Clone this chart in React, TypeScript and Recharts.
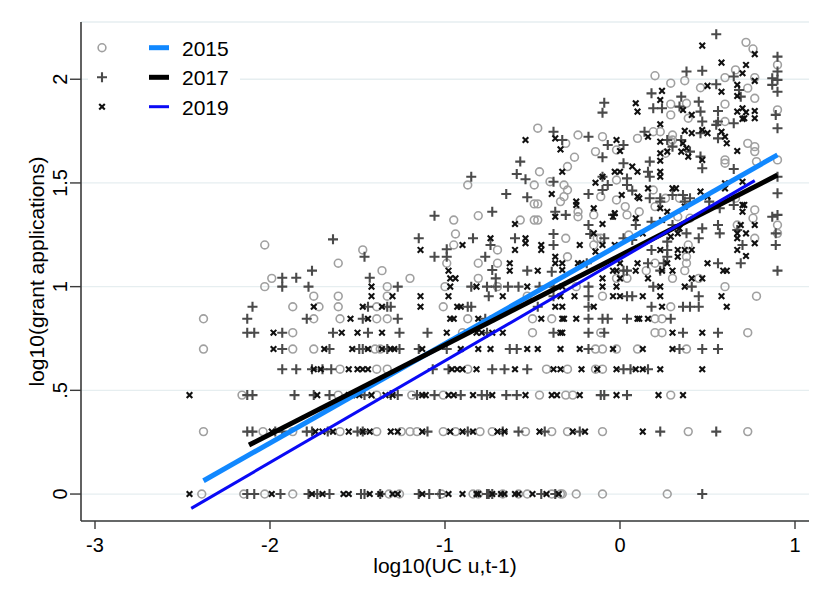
import { ScatterChart, Scatter, XAxis, YAxis, CartesianGrid } from "recharts";

// log10 of 1..10 applications: the rows the low counts sit on
const levels = [0, 0.301, 0.477, 0.602, 0.699, 0.778, 0.845, 0.903, 0.954, 1];

// x values of the points on each row (index = level)
const rows2015: number[][] = [
  [-2.39, -2.15, -2.03, -1.87, -1.32, -1.26, -1.02, -0.84, -0.81, -0.67, -0.58, -0.53, -0.39, -0.34, -0.33, -0.25, -0.1, 0.27],
  [-2.38, -2.04, -1.87, -1.6, -1.39, -1.25, -1.2, -1.16, -1.01, -0.94, -0.8, -0.73, -0.54, -0.39, -0.3, -0.1, 0.39, 0.73],
  [-2.16, -1.61, -1.39, -1.19, -1.01, -0.46, -0.31, -0.27, 0.29],
  [-1.6, -1.39, -1.33, -0.87, -0.42, -0.3, -0.14, -0.1],
  [-2.38, -1.87, -1.75, -1.4, -1.37, -0.14, -0.1, -0.02, 0.1, 0.38],
  [-1.87, -0.9, -0.5, -0.11, 0.2, 0.24, 0.73],
  [-2.38, -1.75, -1.6, -1.39, -1.33, -0.87, -0.5, -0.39, 0.2, 0.24],
  [-1.87, -1.72, -1.61, -1.39, -1.01, 0.29],
  [-1.75, -1.61, -1.33, -0.53, -0.1, 0.78],
  [-2.03, -1.33, -1, -0.7, -0.25, 0.6],
];
const rows2017: number[][] = [
  [-2.13, -2.09, -1.94, -1.78, -1.73, -1.66, -1.48, -1.46, -1.37, -1.15, -1.09, -1.03, -0.76, -0.75, -0.73, -0.45, -0.37, 0.47],
  [-2.13, -2.1, -1.97, -1.93, -1.79, -1.76, -1.67, -1.5, -1.47, -1.1, -0.87, -0.67, -0.58, -0.43, -0.23, 0.23, 0.55],
  [-2.13, -2.1, -1.86, -1.75, -1.66, -1.46, -1.31, -1.27, -1.16, -1.06, -0.91, -0.79, -0.76, -0.65, -0.59, -0.11, -0.09, 0.04],
  [-1.93, -1.85, -1.76, -1.7, -1.65, -1.07, -0.98, -0.73, -0.66, -0.53, 0.02, 0.06, 0.16],
  [-1.93, -1.66, -1.49, -1.47, -1.33, -1.26, -1.15, -0.99, -0.63, -0.59, -0.18, 0.34, 0.47, 0.56],
  [-2.13, -2.09, -1.93, -1.64, -1.44, -1.26, -1.1, -0.76, -0.38, -0.18, -0.09, 0.36, 0.56],
  [-2.13, -1.79, -1.47, -1.27, -0.77, -0.18, -0.1, -0.07, 0.04, 0.29],
  [-2.1, -1.44, -1.33, -1.31, -0.87, -0.85, -0.47, -0.18, 0.18, 0.36, 0.4, 0.45],
  [-0.75, -0.38, -0.18, 0.04, 0.07, 0.45],
  [-1.93, -1.78, -1.27, -0.85, -0.76, -0.71, -0.64, -0.58, -0.46, -0.38, -0.18, 0.19, 0.41],
];
const rows2019: number[][] = [
  [-2.46, -1.99, -1.76, -1.7, -1.58, -1.55, -1.43, -1.37, -1.3, -1.27, -1.13, -0.98, -0.9, -0.82, -0.81, -0.73, -0.68, -0.66, -0.6, -0.58, -0.5, -0.42, -0.35],
  [-1.99, -1.74, -1.7, -1.64, -1.55, -1.47, -1.43, -1.31, -1.27, -1.13, -0.97, -0.9, -0.84, -0.7, -0.66, -0.46, -0.27, -0.2, 0.13],
  [-2.46, -1.73, -1.55, -1.53, -1.49, -1.42, -1.34, -1.3, -1.13, -1.11, -0.98, -0.95, -0.84, -0.73, -0.54, -0.39, -0.36, -0.23, -0.02, 0.22, 0.36],
  [-1.75, -1.71, -1.55, -1.5, -1.47, -1.44, -0.96, -0.93, -0.9, -0.82, -0.6, -0.38, -0.34, -0.22, -0.13, -0.02, 0.09, 0.13, 0.23, 0.47],
  [-1.98, -1.69, -1.53, -1.44, -1.36, -1.31, -1.29, -1.13, -0.91, -0.81, -0.74, -0.53, -0.47, -0.34, -0.23, -0.04, 0.13, 0.3],
  [-1.98, -1.59, -1.5, -1.36, -0.99, -0.82, -0.79, -0.73, -0.67, -0.34, -0.33, 0.3, 0.47],
  [-1.54, -1.44, -0.97, -0.95, -0.81, -0.73, -0.45, -0.33, -0.32, -0.25, 0.1, 0.11, 0.16],
  [-1.75, -1.47, -1.36, -1.14, -0.93, -0.91, -0.37, -0.33, -0.15, 0.24, 0.61],
  [-1.42, -1.3, -1.14, -0.98, -0.67, -0.34, -0.26, -0.04, 0, 0.13, 0.23, 0.58],
  [-1.42, -0.97, -0.82, -0.53, -0.33, -0.1, -0.02, 0.23, 0.37],
];

// points above 10 applications, [x, y]
const upper2015: [number, number][] = [
  [-2.03, 1.201], [-1.47, 1.177], [-1.61, 1.113], [-1.36, 1.077], [-1.99, 1.04], [-0.94, 1.254], [-0.31, 1.233], [-0.11, 1.233],
  [-0.95, 1.201], [-0.7, 1.177], [-0.3, 1.144], [-0.15, 1.201], [-0.99, 1.113], [-0.81, 1.113], [-0.7, 1.113], [-0.81, 1.04],
  [-1.2, 1.04], [-0.47, 1.764], [-0.31, 1.691], [-0.24, 1.731], [-0.1, 1.723], [-0.14, 1.651], [-0.26, 1.624], [-0.3, 1.579],
  [-0.87, 1.49], [-0.46, 1.554], [-0.49, 1.49], [-0.4, 1.506], [-0.32, 1.49], [-0.3, 1.466], [-0.32, 1.434], [-0.34, 1.41],
  [-0.11, 1.434], [-0.49, 1.399], [-0.47, 1.399], [-0.02, 1.418], [-0.81, 1.342], [-0.95, 1.321], [-0.49, 1.321], [-0.47, 1.321],
  [-0.57, 1.321], [-0.24, 1.361], [-0.24, 1.337], [-0.15, 1.346],
  [0.72, 2.178], [0.76, 2.146], [0.9, 2.069], [0.66, 2.045], [0.2, 2.017], [0.6, 2.008], [0.77, 2.008], [0.29, 1.981],
  [0.37, 1.993], [0.73, 1.957], [0.46, 1.959], [0.77, 1.908], [0.29, 1.88], [0.38, 1.884], [0.6, 1.88], [0.6, 1.796],
  [0.9, 1.852], [0.29, 1.828], [0.39, 1.812], [0.3, 1.731], [0.29, 1.699], [0.23, 1.747], [0.19, 1.747], [0.1, 1.715],
  [0.3, 1.707], [-0.02, 1.659], [0.26, 1.643], [0.73, 1.691], [0.77, 1.675], [0.77, 1.651], [0.78, 1.603], [0.6, 1.611],
  [0.6, 1.595], [0.9, 1.611], [0.9, 1.297], [-0.02, 1.514], [0.19, 1.466], [0.26, 1.426], [0.34, 1.426], [0.77, 1.37],
  [0.66, 1.426], [0.03, 1.386], [0.04, 1.346], [0.11, 1.361], [0.2, 1.386], [0.33, 1.337], [0.4, 1.33], [0.67, 1.297],
  [0.76, 1.33], [-0.13, 1.233], [0.05, 1.249], [0.39, 1.201], [0.77, 1.233], [0.9, 1.257], [0.38, 1.144], [0.38, 1.113],
  [0.37, 1.077], [0.2, 1.113], [0.15, 1.077], [0.04, 1.04], [0.3, 1.04], [0.45, 1.04], [-0.02, 1.04],
];
const upper2017: [number, number][] = [
  [-1.64, 1.228], [-1.46, 1.144], [-1.76, 1.077], [-1.93, 1.043], [-1.85, 1.043], [-1.43, 1.043], [-1.15, 1.233], [-0.84, 1.233],
  [-0.6, 1.233], [-0.38, 1.254], [-0.17, 1.254], [-0.99, 1.18], [-0.74, 1.201], [-0.38, 1.201], [-1.06, 1.144], [-0.99, 1.144],
  [-0.77, 1.144], [-0.73, 1.08], [-0.53, 1.077], [-0.39, 1.072], [-0.71, 1.04],
  [-0.09, 1.887], [-0.1, 1.839], [-0.38, 1.747], [-0.33, 1.707], [-0.18, 1.723], [-0.07, 1.683], [-0.1, 1.624], [-0.57, 1.603],
  [-0.85, 1.53], [-0.59, 1.543], [-0.54, 1.518], [-0.38, 1.506], [-0.07, 1.49], [-0.1, 1.466], [-0.65, 1.447], [-0.53, 1.431],
  [-0.18, 1.447], [-0.73, 1.361], [-1.06, 1.342], [-0.37, 1.361], [-0.31, 1.346], [-0.18, 1.297],
  [0.55, 2.217], [0.9, 2.109], [0.9, 2.037], [0.38, 2.037], [0.47, 2.041], [0.65, 2.013], [0.87, 2.005], [0.9, 1.997],
  [0.87, 1.973], [0.9, 1.94], [0.55, 1.976], [0.68, 1.948], [0.18, 1.932], [0.69, 1.916], [0.19, 1.86], [0.24, 1.86],
  [0.35, 1.916], [0.34, 1.868], [0.45, 1.892], [0.46, 1.844], [0.56, 1.847], [0.89, 1.828], [0.9, 1.764], [0.47, 1.796],
  [0.56, 1.796], [0.55, 1.78], [0.65, 1.788], [0.46, 1.74], [0.56, 1.715], [0.14, 1.747], [0.27, 1.707], [0.3, 1.675],
  [0.35, 1.707], [0.02, 1.683], [0.4, 1.651], [0.46, 1.627], [0.47, 1.571], [0.65, 1.567], [0.9, 1.53], [0.9, 1.45],
  [0.87, 1.337], [0.17, 1.603], [0.16, 1.554], [0.17, 1.53], [0.02, 1.595], [-0.1, 1.53], [0.04, 1.522], [0.04, 1.49],
  [0.07, 1.463], [0.17, 1.426], [0.23, 1.426], [0.3, 1.442], [0.23, 1.41], [0.36, 1.442], [0.37, 1.41], [0.4, 1.426],
  [0.51, 1.41], [0.65, 1.394], [0.9, 1.346], [0.57, 1.378], [-0.04, 1.346], [0.09, 1.297], [0.18, 1.313], [0.3, 1.297],
  [0.47, 1.281], [0.56, 1.297], [0.67, 1.273], [-0.09, 1.233], [0.02, 1.233], [0.07, 1.225], [0.27, 1.217], [0.38, 1.257],
  [0.45, 1.233], [0.57, 1.257], [0.7, 1.201], [0.89, 1.257], [0.89, 1.201], [0.18, 1.177], [0.27, 1.177], [0.27, 1.144],
  [0.69, 1.113], [0.56, 1.113], [0.9, 1.077], [0.16, 1.113], [0.25, 1.113], [0.23, 1.077], [-0.19, 1.113], [0.02, 1.077],
  [0.04, 1.077],
];
const upper2019: [number, number][] = [
  [-0.74, 1.233], [-0.54, 1.233], [-1.14, 1.177], [-0.9, 1.201], [-0.6, 1.177], [-0.54, 1.209], [-0.45, 1.201], [-0.23, 1.201],
  [-0.45, 1.177], [-0.37, 1.144], [-0.63, 1.113], [-0.37, 1.113], [-0.33, 1.113], [-0.24, 1.113], [-0.22, 1.113], [-0.98, 1.077],
  [-0.97, 1.04], [-0.94, 1.04], [-0.63, 1.077], [-0.47, 1.077], [-0.33, 1.08],
  [-0.54, 1.707], [-0.37, 1.715], [-0.34, 1.662], [-0.02, 1.707], [-0.33, 1.554], [-0.14, 1.501], [-0.1, 1.53], [-0.03, 1.554],
  [-0.39, 1.447], [-0.25, 1.41], [-0.25, 1.394], [-0.15, 1.378], [-0.6, 1.302], [-0.37, 1.337], [-0.1, 1.302], [-0.03, 1.354],
  [0.47, 2.162], [0.77, 2.121], [0.58, 2.08], [0.72, 2.069], [0.7, 2.029], [0.77, 1.992], [0.5, 1.968], [0.58, 1.94],
  [0.67, 1.973], [0.24, 1.944], [0.67, 1.919], [0.09, 1.884], [0.1, 1.844], [0.23, 1.9], [0.36, 1.852], [0.41, 1.828],
  [0.67, 1.844], [0.7, 1.86], [0.72, 1.841], [0.7, 1.809], [0.71, 1.812], [0.77, 1.847], [0.77, 1.812], [0.23, 1.783],
  [0.37, 1.751], [0.41, 1.74], [0.47, 1.755], [0.5, 1.74], [0.58, 1.747], [0.6, 1.723], [0.61, 1.691], [0.16, 1.723],
  [0.23, 1.699], [0.36, 1.691], [0.38, 1.667], [0, 1.654], [0.23, 1.643], [0.27, 1.651], [0.35, 1.651], [0.39, 1.627],
  [0.47, 1.611], [0.67, 1.654], [0.23, 1.607], [0.23, 1.554], [0.23, 1.53], [0.07, 1.579], [0.1, 1.554], [0, 1.554],
  [0.01, 1.442], [0.1, 1.434], [0.16, 1.474], [0.11, 1.426], [0.3, 1.474], [0.32, 1.474], [0.23, 1.378], [0.37, 1.386],
  [0.46, 1.458], [0.5, 1.434], [0.6, 1.498], [0.6, 1.474], [0.7, 1.506], [0.7, 1.394], [0.71, 1.394], [0.7, 1.361],
  [-0.04, 1.337], [0.09, 1.33], [0.27, 1.361], [0.24, 1.321], [0.34, 1.281], [0.69, 1.297], [0.77, 1.297],
  [-0.15, 1.257], [-0.1, 1.201], [-0.03, 1.201], [0.13, 1.257], [0.29, 1.241], [0.33, 1.257], [0.67, 1.257], [0.67, 1.233],
  [0.72, 1.257], [0.77, 1.209], [-0.14, 1.169], [0.23, 1.177], [0.33, 1.177], [0.37, 1.177], [0.41, 1.177], [0.33, 1.144],
  [0.67, 1.177], [0.72, 1.148], [0.5, 1.113], [0.59, 1.077], [0.61, 1.077], [0.1, 1.113], [0.27, 1.113], [0.24, 1.077],
  [0.3, 1.077], [0, 1.113], [-0.04, 1.077], [-0.02, 1.077], [0.09, 1.077], [0, 1.04], [0.16, 1.04], [0.41, 1.04],
  [0.47, 1.04], [-0.1, 1.04],
];

// linear fits, end points
const fitX2015 = [-2.38, 0.9];
const fitY2015 = [0.064, 1.635];
const fitX2017 = [-2.12, 0.9];
const fitY2017 = [0.236, 1.538];
const fitX2019 = [-2.45, 0.77];
const fitY2019 = [-0.069, 1.511];

const years = ["2015", "2017", "2019"];
const xTicks = [-3, -2, -1, 0, 1];
const yTicks = [0, 0.5, 1, 1.5, 2];
const yTickLabels = ["0", ".5", "1", "1.5", "2"];

const FONT = '"Liberation Sans", Arial, Helvetica, sans-serif';
const C2015 = "#1188ff";
const C2017 = "#000000";
const C2019 = "#0a0af5";

function toPoints(rows: number[][], upper: [number, number][]) {
  const low = rows.flatMap((xs, i) => xs.map((x) => ({ x, y: levels[i] })));
  return low.concat(upper.map(([x, y]) => ({ x, y })));
}

function toLine(xs: number[], ys: number[]) {
  return xs.map((x, i) => ({ x, y: ys[i] }));
}

const Circle = ({ cx, cy }: any) => (
  <circle cx={cx} cy={cy} r={3.9} fill="none" stroke="#a0a0a0" strokeWidth={1.6} />
);
const Plus = ({ cx, cy }: any) => (
  <path d={`M${cx - 5},${cy}H${cx + 5}M${cx},${cy - 5}V${cy + 5}`} stroke="#4a4a4a" strokeWidth={2.1} />
);
const Cross = ({ cx, cy }: any) => (
  <path d={`M${cx - 2.8},${cy - 2.8}L${cx + 2.8},${cy + 2.8}M${cx - 2.8},${cy + 2.8}L${cx + 2.8},${cy - 2.8}`} stroke="#111" strokeWidth={2.1} />
);
const NoDot = () => <g />;

const XTick = ({ x, y, payload }: any) => (
  <text x={x} y={y + 23} textAnchor="middle" fontSize={20} fontFamily={FONT} fill="#000">
    {payload.value}
  </text>
);

const YTick = ({ x, y, payload }: any) => (
  <text
    transform={`translate(${x - 3.5},${y}) rotate(-90)`}
    textAnchor="middle"
    fontSize={20}
    fontFamily={FONT}
    fill="#000"
  >
    {yTickLabels[yTicks.indexOf(payload.value)]}
  </text>
);

function LegendOverlay() {
  const rowsY = [47.7, 77.3, 106.7];
  const markers = [Circle, Plus, Cross];
  const colors = [C2015, C2017, C2019];
  const widths = [5, 5, 3];
  return (
    <svg width={830} height={604} style={{ position: "absolute", left: 0, top: 0, pointerEvents: "none" }}>
      <rect x={88} y={28} width={152} height={96} fill="#fff" />
      {years.map((yr, i) => {
        const M = markers[i];
        return (
          <g key={yr}>
            <M cx={102} cy={rowsY[i]} />
            <line x1={149} x2={169} y1={rowsY[i]} y2={rowsY[i]} stroke={colors[i]} strokeWidth={widths[i]} />
            <text x={182} y={rowsY[i] + 8} fontSize={21} fontFamily={FONT} fill="#000">
              {yr}
            </text>
          </g>
        );
      })}
      <text x={445} y={573} textAnchor="middle" fontSize={21} fontFamily={FONT} fill="#000">
        log10(UC u,t-1)
      </text>
      <text
        transform="translate(44,271.5) rotate(-90)"
        textAnchor="middle"
        fontSize={21}
        fontFamily={FONT}
        fill="#000"
      >
        log10(grant applications)
      </text>
    </svg>
  );
}

export default function App() {
  const s2015 = toPoints(rows2015, upper2015);
  const s2017 = toPoints(rows2017, upper2017);
  const s2019 = toPoints(rows2019, upper2019);

  return (
    <div style={{ position: "absolute", left: 0, top: 0, width: 830, height: 604, background: "#fff" }}>
      <ScatterChart width={830} height={604} margin={{ top: 22, right: 21, bottom: 0, left: 0 }}>
        <CartesianGrid vertical={false} stroke="#e6eef0" strokeWidth={1.3} />
        <XAxis
          type="number"
          dataKey="x"
          domain={[-3.08, 1.08]}
          ticks={xTicks}
          allowDataOverflow
          height={83}
          tickSize={8}
          tickMargin={0}
          tick={<XTick />}
          axisLine={{ stroke: "#3a3a3a", strokeWidth: 1.6 }}
          tickLine={{ stroke: "#3a3a3a", strokeWidth: 1.4 }}
        />
        <YAxis
          type="number"
          dataKey="y"
          domain={[-0.13, 2.276]}
          ticks={yTicks}
          allowDataOverflow
          width={81}
          tickSize={11}
          tickMargin={0}
          tick={<YTick />}
          axisLine={{ stroke: "#3a3a3a", strokeWidth: 1.6 }}
          tickLine={{ stroke: "#3a3a3a", strokeWidth: 1.4 }}
        />
        <Scatter data={s2015} shape={<Circle />} isAnimationActive={false} />
        <Scatter data={s2017} shape={<Plus />} isAnimationActive={false} />
        <Scatter data={s2019} shape={<Cross />} isAnimationActive={false} />
        <Scatter
          data={toLine(fitX2015, fitY2015)}
          line={{ stroke: C2015, strokeWidth: 5 }}
          shape={<NoDot />}
          isAnimationActive={false}
        />
        <Scatter
          data={toLine(fitX2017, fitY2017)}
          line={{ stroke: C2017, strokeWidth: 5 }}
          shape={<NoDot />}
          isAnimationActive={false}
        />
        <Scatter
          data={toLine(fitX2019, fitY2019)}
          line={{ stroke: C2019, strokeWidth: 3 }}
          shape={<NoDot />}
          isAnimationActive={false}
        />
      </ScatterChart>
      <LegendOverlay />
    </div>
  );
}
